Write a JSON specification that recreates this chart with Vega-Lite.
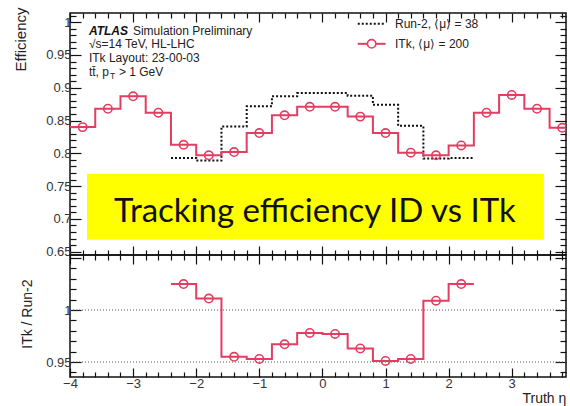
{
  "$schema": "https://vega.github.io/schema/vega-lite/v6.json",
  "background": "white",
  "padding": {"left": 12, "top": 6, "right": 0, "bottom": 0},
  "bounds": "flush",
  "spacing": 0,
  "config": {
    "view": {"stroke": "#111", "strokeWidth": 1.5},
    "font": "Liberation Sans",
    "axis": {
      "labelFont": "Liberation Sans", "labelFontSize": 13, "labelColor": "#333",
      "titleFont": "Liberation Sans", "titleFontSize": 14, "titleFontWeight": "normal", "titleColor": "#222",
      "tickColor": "#111", "tickWidth": 1.2, "domain": false, "grid": false,
      "labelOverlap": false, "labelFlush": false
    }
  },
  "datasets": {
    "itk": [
      {"eta": -3.8, "lo": -4.0, "hi": -3.6, "eff": 0.840},
      {"eta": -3.4, "lo": -3.6, "hi": -3.2, "eff": 0.868},
      {"eta": -3.0, "lo": -3.2, "hi": -2.8, "eff": 0.887},
      {"eta": -2.6, "lo": -2.8, "hi": -2.4, "eff": 0.862},
      {"eta": -2.2, "lo": -2.4, "hi": -2.0, "eff": 0.813},
      {"eta": -1.8, "lo": -2.0, "hi": -1.6, "eff": 0.797},
      {"eta": -1.4, "lo": -1.6, "hi": -1.2, "eff": 0.802},
      {"eta": -1.0, "lo": -1.2, "hi": -0.8, "eff": 0.831},
      {"eta": -0.6, "lo": -0.8, "hi": -0.4, "eff": 0.858},
      {"eta": -0.2, "lo": -0.4, "hi": 0.0, "eff": 0.871},
      {"eta": 0.2, "lo": 0.0, "hi": 0.4, "eff": 0.871},
      {"eta": 0.6, "lo": 0.4, "hi": 0.8, "eff": 0.856},
      {"eta": 1.0, "lo": 0.8, "hi": 1.2, "eff": 0.831},
      {"eta": 1.4, "lo": 1.2, "hi": 1.6, "eff": 0.801},
      {"eta": 1.8, "lo": 1.6, "hi": 2.0, "eff": 0.797},
      {"eta": 2.2, "lo": 2.0, "hi": 2.4, "eff": 0.812},
      {"eta": 2.6, "lo": 2.4, "hi": 2.8, "eff": 0.862},
      {"eta": 3.0, "lo": 2.8, "hi": 3.2, "eff": 0.889},
      {"eta": 3.4, "lo": 3.2, "hi": 3.6, "eff": 0.868},
      {"eta": 3.8, "lo": 3.6, "hi": 4.0, "eff": 0.839}
    ],
    "run2": [
      {"eta": -2.2, "lo": -2.4, "hi": -2.0, "eff": 0.793},
      {"eta": -1.8, "lo": -2.0, "hi": -1.6, "eff": 0.789},
      {"eta": -1.4, "lo": -1.6, "hi": -1.2, "eff": 0.841},
      {"eta": -1.0, "lo": -1.2, "hi": -0.8, "eff": 0.872},
      {"eta": -0.6, "lo": -0.8, "hi": -0.4, "eff": 0.887},
      {"eta": -0.2, "lo": -0.4, "hi": 0.0, "eff": 0.892},
      {"eta": 0.2, "lo": 0.0, "hi": 0.4, "eff": 0.892},
      {"eta": 0.6, "lo": 0.4, "hi": 0.8, "eff": 0.888},
      {"eta": 1.0, "lo": 0.8, "hi": 1.2, "eff": 0.874},
      {"eta": 1.4, "lo": 1.2, "hi": 1.6, "eff": 0.842},
      {"eta": 1.8, "lo": 1.6, "hi": 2.0, "eff": 0.792},
      {"eta": 2.2, "lo": 2.0, "hi": 2.4, "eff": 0.793}
    ],
    "ratio": [
      {"eta": -2.2, "lo": -2.4, "hi": -2.0, "r": 1.025},
      {"eta": -1.8, "lo": -2.0, "hi": -1.6, "r": 1.011},
      {"eta": -1.4, "lo": -1.6, "hi": -1.2, "r": 0.955},
      {"eta": -1.0, "lo": -1.2, "hi": -0.8, "r": 0.953},
      {"eta": -0.6, "lo": -0.8, "hi": -0.4, "r": 0.967},
      {"eta": -0.2, "lo": -0.4, "hi": 0.0, "r": 0.978},
      {"eta": 0.2, "lo": 0.0, "hi": 0.4, "r": 0.977},
      {"eta": 0.6, "lo": 0.4, "hi": 0.8, "r": 0.963},
      {"eta": 1.0, "lo": 0.8, "hi": 1.2, "r": 0.951},
      {"eta": 1.4, "lo": 1.2, "hi": 1.6, "r": 0.953},
      {"eta": 1.8, "lo": 1.6, "hi": 2.0, "r": 1.009},
      {"eta": 2.2, "lo": 2.0, "hi": 2.4, "r": 1.025}
    ],
    "refs": [{"ref": 1.0}, {"ref": 0.95}],
    "one": [{}]
  },
  "vconcat": [
    {
      "width": 496,
      "height": 242,
      "resolve": {"axis": {"x": "independent", "y": "independent"}},
      "layer": [
        {
          "data": {"name": "run2"},
          "transform": [{"fold": ["lo", "hi"], "as": ["edge", "x"]}],
          "mark": {"type": "line", "color": "#111", "strokeWidth": 2, "strokeDash": [2, 2], "clip": true},
          "encoding": {
            "x": {"field": "x", "type": "quantitative", "scale": {"domain": [-4, 3.86], "nice": false, "zero": false},
              "axis": {"orient": "bottom", "title": null, "labels": false,
                "values": [-4,-3.8,-3.6,-3.4,-3.2,-3,-2.8,-2.6,-2.4,-2.2,-2,-1.8,-1.6,-1.4,-1.2,-1,-0.8,-0.6,-0.4,-0.2,0,0.2,0.4,0.6,0.8,1,1.2,1.4,1.6,1.8,2,2.2,2.4,2.6,2.8,3,3.2,3.4,3.6,3.8],
                "tickSize": {"condition": {"test": "datum.value % 1 === 0", "value": -9}, "value": -5}}},
            "y": {"field": "eff", "type": "quantitative", "scale": {"domain": [0.645, 1.014], "nice": false, "zero": false},
              "axis": {"orient": "left", "title": "Efficiency", "titleFontSize": 15,
                "values": [0.65,0.66,0.67,0.68,0.69,0.7,0.71,0.72,0.73,0.74,0.75,0.76,0.77,0.78,0.79,0.8,0.81,0.82,0.83,0.84,0.85,0.86,0.87,0.88,0.89,0.9,0.91,0.92,0.93,0.94,0.95,0.96,0.97,0.98,0.99,1,1.01],
                "labelExpr": "abs(datum.value*20-round(datum.value*20))<1e-6 ? format(datum.value,'~g') : ''",
                "labelPadding": 10,
                "tickSize": {"condition": {"test": "abs(datum.value*20-round(datum.value*20))<1e-6", "value": -11}, "value": -6},
                "titleX": -50, "titleY": -6, "titleAlign": "right", "titleBaseline": "middle", "titleAngle": -90}},
            "order": [{"field": "eta", "type": "quantitative"}, {"field": "edge", "sort": "descending"}]
          }
        },
        {
          "data": {"name": "itk"},
          "transform": [{"fold": ["lo", "hi"], "as": ["edge", "x"]}],
          "mark": {"type": "line", "color": "#e33d62", "strokeWidth": 2, "clip": true},
          "encoding": {
            "x": {"field": "x", "type": "quantitative",
              "axis": {"orient": "top", "title": null, "labels": false,
                "values": [-4,-3.8,-3.6,-3.4,-3.2,-3,-2.8,-2.6,-2.4,-2.2,-2,-1.8,-1.6,-1.4,-1.2,-1,-0.8,-0.6,-0.4,-0.2,0,0.2,0.4,0.6,0.8,1,1.2,1.4,1.6,1.8,2,2.2,2.4,2.6,2.8,3,3.2,3.4,3.6,3.8],
                "tickSize": {"condition": {"test": "datum.value % 1 === 0", "value": -9}, "value": -5}}},
            "y": {"field": "eff", "type": "quantitative",
              "axis": {"orient": "right", "title": null, "labels": false,
                "values": [0.65,0.66,0.67,0.68,0.69,0.7,0.71,0.72,0.73,0.74,0.75,0.76,0.77,0.78,0.79,0.8,0.81,0.82,0.83,0.84,0.85,0.86,0.87,0.88,0.89,0.9,0.91,0.92,0.93,0.94,0.95,0.96,0.97,0.98,0.99,1,1.01],
                "tickSize": {"condition": {"test": "abs(datum.value*20-round(datum.value*20))<1e-6", "value": -11}, "value": -6}}},
            "order": [{"field": "eta", "type": "quantitative"}, {"field": "edge", "sort": "descending"}]
          }
        },
        {
          "data": {"name": "itk"},
          "mark": {"type": "point", "shape": "circle", "filled": false, "color": "#e33d62", "strokeWidth": 1.6, "size": 70, "opacity": 1, "clip": true},
          "encoding": {
            "x": {"field": "eta", "type": "quantitative", "axis": null},
            "y": {"field": "eff", "type": "quantitative", "axis": null}
          }
        },
        {
          "data": {"name": "one"},
          "mark": {"type": "rect", "color": "#ffff00"},
          "encoding": {
            "x": {"datum": -3.73, "type": "quantitative", "axis": null}, "x2": {"datum": 3.51},
            "y": {"datum": 0.6683, "type": "quantitative", "axis": null}, "y2": {"datum": 0.7689}
          }
        },
        {
          "data": {"name": "one"},
          "mark": {"type": "text", "text": "Tracking efficiency ID vs ITk", "font": "Lato", "fontSize": 33, "color": "#111", "align": "center", "baseline": "alphabetic"},
          "encoding": {
            "x": {"datum": -0.12, "type": "quantitative", "axis": null},
            "y": {"datum": 0.6957, "type": "quantitative", "axis": null}
          }
        },
        {
          "data": {"name": "one"},
          "mark": {"type": "text", "text": "ATLAS", "fontSize": 12, "fontWeight": "bold", "fontStyle": "italic", "color": "#111", "align": "left", "baseline": "alphabetic"},
          "encoding": {
            "x": {"datum": -3.7, "type": "quantitative", "axis": null},
            "y": {"datum": 0.9808, "type": "quantitative", "axis": null}
          }
        },
        {
          "data": {"name": "one"},
          "mark": {"type": "text", "text": "Simulation Preliminary", "fontSize": 12, "color": "#222", "align": "left", "baseline": "alphabetic", "dx": 44},
          "encoding": {
            "x": {"datum": -3.7, "type": "quantitative", "axis": null},
            "y": {"datum": 0.9808, "type": "quantitative", "axis": null}
          }
        },
        {
          "data": {"name": "one"},
          "mark": {"type": "text", "text": ["√s=14 TeV, HL-LHC", "ITk Layout: 23-00-03"], "lineHeight": 14, "fontSize": 12, "color": "#222", "align": "left", "baseline": "alphabetic"},
          "encoding": {
            "x": {"datum": -3.7, "type": "quantitative", "axis": null},
            "y": {"datum": 0.961, "type": "quantitative", "axis": null}
          }
        },
        {
          "data": {"name": "one"},
          "mark": {"type": "text", "text": "tt̄, p", "fontSize": 12, "color": "#222", "align": "left", "baseline": "alphabetic"},
          "encoding": {
            "x": {"datum": -3.7, "type": "quantitative", "axis": null},
            "y": {"datum": 0.9178, "type": "quantitative", "axis": null}
          }
        },
        {
          "data": {"name": "one"},
          "mark": {"type": "text", "text": "T", "fontSize": 8.5, "color": "#222", "align": "left", "baseline": "alphabetic", "dx": 21, "dy": 3},
          "encoding": {
            "x": {"datum": -3.7, "type": "quantitative", "axis": null},
            "y": {"datum": 0.9178, "type": "quantitative", "axis": null}
          }
        },
        {
          "data": {"name": "one"},
          "mark": {"type": "text", "text": "> 1 GeV", "fontSize": 12, "color": "#222", "align": "left", "baseline": "alphabetic", "dx": 30},
          "encoding": {
            "x": {"datum": -3.7, "type": "quantitative", "axis": null},
            "y": {"datum": 0.9178, "type": "quantitative", "axis": null}
          }
        },
        {
          "data": {"name": "one"},
          "mark": {"type": "rule", "color": "#111", "strokeWidth": 2, "strokeDash": [2, 2]},
          "encoding": {
            "x": {"datum": 0.56, "type": "quantitative", "axis": null}, "x2": {"datum": 1.0},
            "y": {"datum": 0.9976, "type": "quantitative", "axis": null}
          }
        },
        {
          "data": {"name": "one"},
          "mark": {"type": "rule", "color": "#e33d62", "strokeWidth": 2},
          "encoding": {
            "x": {"datum": 0.56, "type": "quantitative", "axis": null}, "x2": {"datum": 1.0},
            "y": {"datum": 0.967, "type": "quantitative", "axis": null}
          }
        },
        {
          "data": {"name": "one"},
          "mark": {"type": "point", "shape": "circle", "filled": true, "fill": "white", "stroke": "#e33d62", "strokeWidth": 1.6, "size": 70, "opacity": 1},
          "encoding": {
            "x": {"datum": 0.78, "type": "quantitative", "axis": null},
            "y": {"datum": 0.967, "type": "quantitative", "axis": null}
          }
        },
        {
          "data": {"name": "one"},
          "mark": {"type": "text", "text": "Run-2, ⟨μ⟩ = 38", "fontSize": 12, "color": "#222", "align": "left", "baseline": "middle"},
          "encoding": {
            "x": {"datum": 1.15, "type": "quantitative", "axis": null},
            "y": {"datum": 0.9976, "type": "quantitative", "axis": null}
          }
        },
        {
          "data": {"name": "one"},
          "mark": {"type": "text", "text": "ITk, ⟨μ⟩ = 200", "fontSize": 12, "color": "#222", "align": "left", "baseline": "middle"},
          "encoding": {
            "x": {"datum": 1.15, "type": "quantitative", "axis": null},
            "y": {"datum": 0.967, "type": "quantitative", "axis": null}
          }
        }
      ]
    },
    {
      "width": 496,
      "height": 122,
      "resolve": {"axis": {"x": "independent", "y": "independent"}},
      "layer": [
        {
          "data": {"name": "refs"},
          "mark": {"type": "rule", "color": "#555", "strokeWidth": 1, "strokeDash": [1, 2]},
          "encoding": {
            "y": {"field": "ref", "type": "quantitative", "scale": {"domain": [0.9356, 1.0529], "nice": false, "zero": false}, "axis": null}
          }
        },
        {
          "data": {"name": "ratio"},
          "transform": [{"fold": ["lo", "hi"], "as": ["edge", "x"]}],
          "mark": {"type": "line", "color": "#e33d62", "strokeWidth": 2, "clip": true},
          "encoding": {
            "x": {"field": "x", "type": "quantitative", "scale": {"domain": [-4, 3.86], "nice": false, "zero": false},
              "axis": {"orient": "bottom", "title": "Truth η", "titleFontSize": 14,
                "values": [-4,-3.8,-3.6,-3.4,-3.2,-3,-2.8,-2.6,-2.4,-2.2,-2,-1.8,-1.6,-1.4,-1.2,-1,-0.8,-0.6,-0.4,-0.2,0,0.2,0.4,0.6,0.8,1,1.2,1.4,1.6,1.8,2,2.2,2.4,2.6,2.8,3,3.2,3.4,3.6,3.8],
                "labelExpr": "datum.value % 1 === 0 ? format(datum.value,'d') : ''",
                "labelPadding": 9,
                "tickSize": {"condition": {"test": "datum.value % 1 === 0", "value": -9}, "value": -5},
                "titleX": 452, "titleY": 25, "titleAlign": "left", "titleBaseline": "alphabetic", "titleAngle": 0}},
            "y": {"field": "r", "type": "quantitative",
              "axis": {"orient": "left", "title": "ITk / Run-2",
                "values": [0.94,0.95,0.96,0.97,0.98,0.99,1,1.01,1.02,1.03,1.04,1.05],
                "labelExpr": "abs(datum.value*20-round(datum.value*20))<1e-6 && datum.value < 1.04 ? format(datum.value,'~g') : ''",
                "labelPadding": 10,
                "tickSize": {"condition": {"test": "abs(datum.value*20-round(datum.value*20))<1e-6", "value": -11}, "value": -6},
                "titleX": -43, "titleY": 24, "titleAlign": "right", "titleBaseline": "middle", "titleAngle": -90}},
            "order": [{"field": "eta", "type": "quantitative"}, {"field": "edge", "sort": "descending"}]
          }
        },
        {
          "data": {"name": "ratio"},
          "mark": {"type": "point", "shape": "circle", "filled": false, "color": "#e33d62", "strokeWidth": 1.6, "size": 70, "opacity": 1},
          "encoding": {
            "x": {"field": "eta", "type": "quantitative",
              "axis": {"orient": "top", "title": null, "labels": false,
                "values": [-4,-3.8,-3.6,-3.4,-3.2,-3,-2.8,-2.6,-2.4,-2.2,-2,-1.8,-1.6,-1.4,-1.2,-1,-0.8,-0.6,-0.4,-0.2,0,0.2,0.4,0.6,0.8,1,1.2,1.4,1.6,1.8,2,2.2,2.4,2.6,2.8,3,3.2,3.4,3.6,3.8],
                "tickSize": {"condition": {"test": "datum.value % 1 === 0", "value": -9}, "value": -5}}},
            "y": {"field": "r", "type": "quantitative",
              "axis": {"orient": "right", "title": null, "labels": false,
                "values": [0.94,0.95,0.96,0.97,0.98,0.99,1,1.01,1.02,1.03,1.04,1.05],
                "tickSize": {"condition": {"test": "abs(datum.value*20-round(datum.value*20))<1e-6", "value": -11}, "value": -6}}}
          }
        }
      ]
    }
  ]
}
